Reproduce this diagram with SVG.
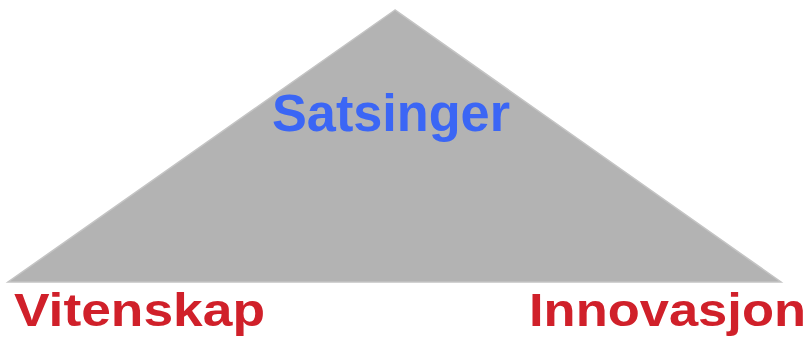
<svg xmlns="http://www.w3.org/2000/svg" width="810" height="338" viewBox="0 0 810 338">
<style>
.lbl{font-family:"Liberation Sans",Arial,sans-serif;font-weight:bold;}
.red{fill:#d0202a;font-size:46px;}
.blue{fill:#3b66f5;font-size:51px;}
</style>
<rect width="810" height="338" fill="#ffffff"/>
<g id="triangle">
<polygon points="395,10 8,282 781,282" fill="#b3b3b3" stroke="#c4c4c4" stroke-width="1.5"/>
<text class="lbl blue" x="272" y="131" textLength="238" lengthAdjust="spacingAndGlyphs">Satsinger</text>
</g>
<g id="vitenskap">
<text class="lbl red" x="14" y="326" textLength="251" lengthAdjust="spacingAndGlyphs">Vitenskap</text>
</g>
<g id="innovasjon">
<text class="lbl red" x="529" y="326" textLength="277" lengthAdjust="spacingAndGlyphs">Innovasjon</text>
</g>
<g id="connectors"></g>
</svg>
